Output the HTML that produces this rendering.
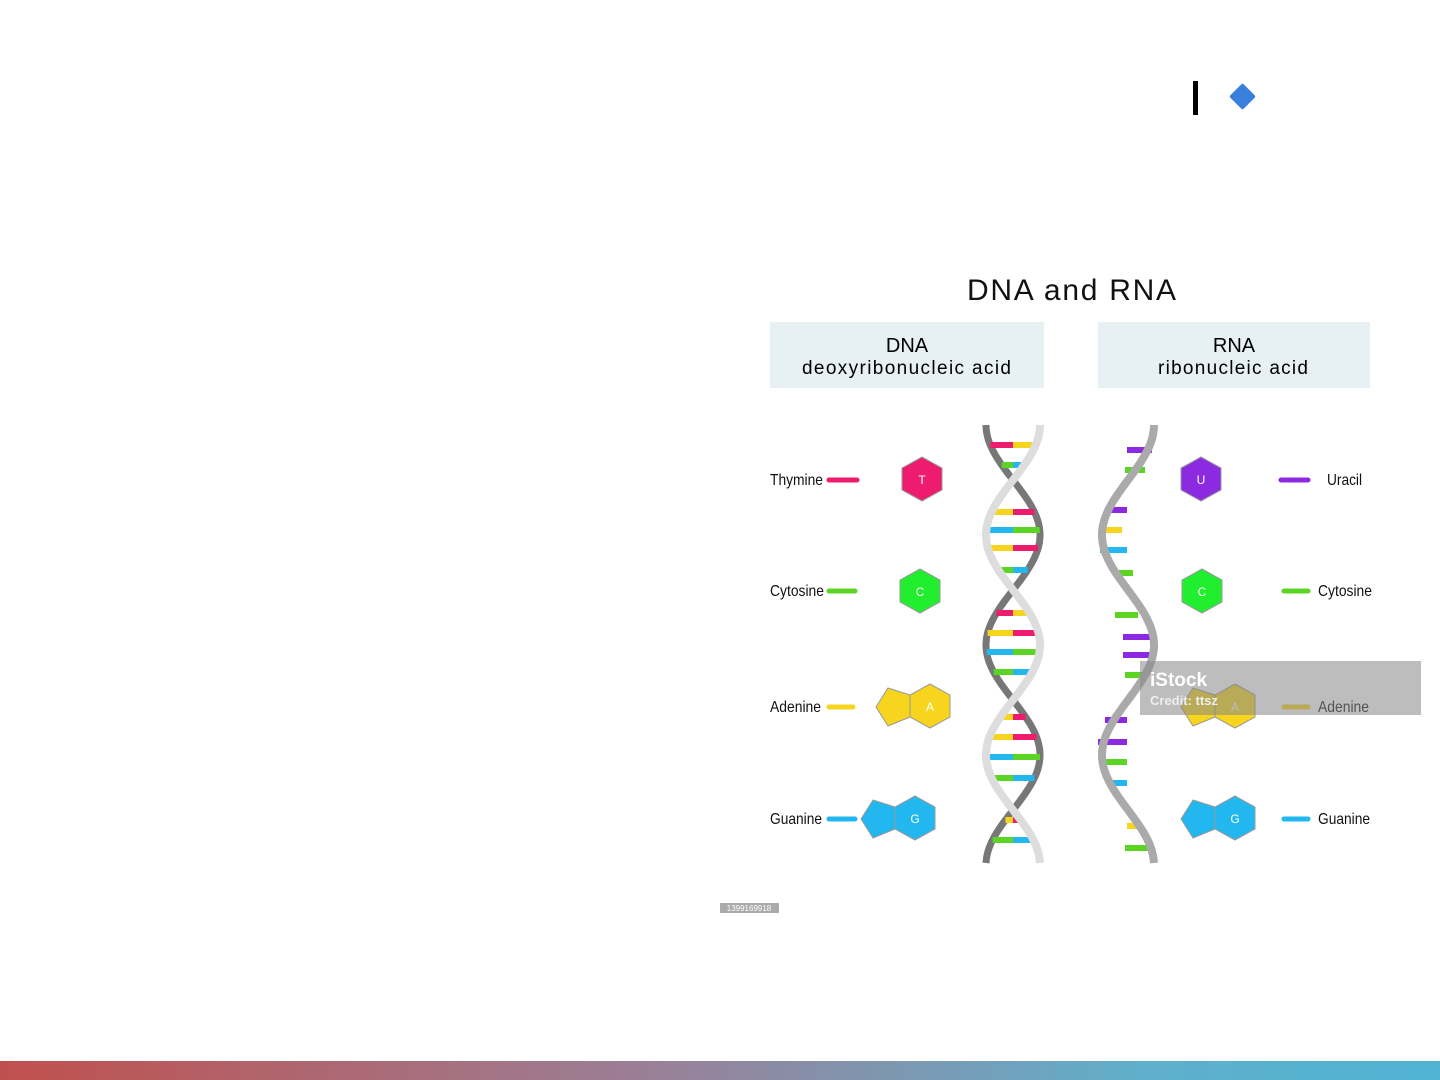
<!DOCTYPE html>
<html><head><meta charset="utf-8"><style>
body{margin:0;width:1440px;height:1080px;background:#fff;overflow:hidden;position:relative;font-family:"Liberation Sans",sans-serif}
.bar{position:absolute;left:0;top:1061px;width:1440px;height:19px;background:linear-gradient(90deg,#c0504d,#9a7f97 45%,#5fb0cc 80%,#4fb3d2)}
</style></head><body>
<svg width="1440" height="1080" style="position:absolute;left:0;top:0" font-family="Liberation Sans, sans-serif">
<rect x="1193" y="81" width="5" height="34" fill="#000"/>
<rect x="1233" y="87" width="19" height="19" fill="#3b7fdc" transform="rotate(45 1242.5 96.5)" rx="2"/>
<text x="967" y="300" font-size="30" fill="#111" textLength="209" lengthAdjust="spacing">DNA and RNA</text>
<rect x="770" y="322" width="274" height="66" fill="#e7f0f3"/>
<rect x="1098" y="322" width="272" height="66" fill="#e7f0f3"/>
<text x="907" y="352" font-size="20" text-anchor="middle">DNA</text>
<text x="802" y="374" font-size="19" textLength="209" lengthAdjust="spacing">deoxyribonucleic acid</text>
<text x="1234" y="352" font-size="20" text-anchor="middle">RNA</text>
<text x="1158" y="374" font-size="19" textLength="150" lengthAdjust="spacing">ribonucleic acid</text>
<g font-size="16" fill="#111" lengthAdjust="spacingAndGlyphs">
<text x="770" y="485" textLength="53" lengthAdjust="spacingAndGlyphs">Thymine</text>
<text x="770" y="596" textLength="54" lengthAdjust="spacingAndGlyphs">Cytosine</text>
<text x="770" y="712" textLength="51" lengthAdjust="spacingAndGlyphs">Adenine</text>
<text x="770" y="824" textLength="52" lengthAdjust="spacingAndGlyphs">Guanine</text>
<text x="1327" y="485" textLength="35" lengthAdjust="spacingAndGlyphs">Uracil</text>
<text x="1318" y="596" textLength="54" lengthAdjust="spacingAndGlyphs">Cytosine</text>
<text x="1318" y="712" textLength="51" lengthAdjust="spacingAndGlyphs">Adenine</text>
<text x="1318" y="824" textLength="52" lengthAdjust="spacingAndGlyphs">Guanine</text>
</g>
<g stroke-linecap="round" stroke-width="5">
<line x1="829" y1="480" x2="857" y2="480" stroke="#ee1c6e"/>
<line x1="829" y1="591" x2="855" y2="591" stroke="#5bd424"/>
<line x1="829" y1="707" x2="853" y2="707" stroke="#f7d51e"/>
<line x1="829" y1="819" x2="855" y2="819" stroke="#22b7ef"/>
<line x1="1281" y1="480" x2="1308" y2="480" stroke="#8b2ae0"/>
<line x1="1284" y1="591" x2="1308" y2="591" stroke="#5bd424"/>
<line x1="1284" y1="707" x2="1308" y2="707" stroke="#f7d51e"/>
<line x1="1284" y1="819" x2="1308" y2="819" stroke="#22b7ef"/>
</g>
<g stroke="#999" stroke-width="1">
<polygon points="922,457 942,468 942,490 922,501 902,490 902,468" fill="#ee1c6e"/>
<polygon points="920,569 940,580 940,602 920,613 900,602 900,580" fill="#22ee30"/>
<polygon points="1201,457 1221,468 1221,490 1201,501 1181,490 1181,468" fill="#8b2ae0"/>
<polygon points="1202,569 1222,580 1222,602 1202,613 1182,602 1182,580" fill="#22ee30"/>
<polygon points="930,684 950,695 950,717 930,728 910,717 910,695" fill="#f7d51e"/>
<polygon points="910,695 888,688 876,707 888,726 910,717" fill="#f7d51e"/>
<polygon points="1235,684 1255,695 1255,717 1235,728 1215,717 1215,695" fill="#f7d51e"/>
<polygon points="1215,695 1193,688 1181,707 1193,726 1215,717" fill="#f7d51e"/>
<polygon points="915,796 935,807 935,829 915,840 895,829 895,807" fill="#22b7ef"/>
<polygon points="895,807 873,800 861,819 873,838 895,829" fill="#22b7ef"/>
<polygon points="1235,796 1255,807 1255,829 1235,840 1215,829 1215,807" fill="#22b7ef"/>
<polygon points="1215,807 1193,800 1181,819 1193,838 1215,829" fill="#22b7ef"/>
</g>
<g fill="#fff" font-size="12" text-anchor="middle">
<text x="922" y="484">T</text><text x="920" y="596">C</text><text x="1201" y="484">U</text><text x="1202" y="596">C</text><text x="930" y="711">A</text><text x="1235" y="711">A</text><text x="915" y="823">G</text><text x="1235" y="823">G</text>
</g>
<g id="helix"></g>
<rect x="1140" y="661" width="281" height="54" fill="rgba(135,135,135,0.55)"/>
<text x="1150" y="686" font-size="19" font-weight="bold" fill="#fff">iStock</text>
<text x="1150" y="705" font-size="13" font-weight="bold" fill="#eee">Credit: ttsz</text>
<rect x="720" y="903" width="59" height="10" fill="#aaa"/>
<text x="749" y="911" font-size="8" fill="#fff" text-anchor="middle">1399169918</text>
</svg>
<div class="bar"></div>
<script>
const g=document.getElementById('helix');let s='';
const P=220;
function path(f){let d='';for(let y=425;y<=865;y+=3){d+=(y==425?'M':'L')+f(y).toFixed(1)+','+y+' ';}return d;}
const c=y=>Math.cos(2*Math.PI*(y-425)/P);
const C={T:'#ee1c6e',A:'#f7d51e',G:'#22b7ef',C:'#5bd424',U:'#8b2ae0'};
const db=[[445,'T','A'],[465,'C','G'],[512,'A','T'],[530,'G','C'],[548,'A','T'],[570,'C','G'],[613,'T','A'],[633,'A','T'],[652,'G','C'],[672,'C','G'],[717,'A','T'],[737,'A','T'],[757,'G','C'],[778,'C','G'],[820,'A','T'],[840,'C','G']];
s+='<path d="'+path(y=>1013-27*c(y))+'" fill="none" stroke="#777" stroke-width="7"/>';
db.forEach(([y,a,b])=>{const w=Math.abs(27*c(y));s+=`<rect x="${1013-w}" y="${y-3}" width="${w}" height="6" fill="${C[a]}"/><rect x="1013" y="${y-3}" width="${w}" height="6" fill="${C[b]}"/>`;});
s+='<path d="'+path(y=>1013+27*c(y))+'" fill="none" stroke="#ddd" stroke-width="8"/>';
const rb=[[450,1127,1152,'U'],[470,1125,1145,'C'],[510,1105,1127,'U'],[530,1100,1122,'A'],[550,1100,1127,'G'],[573,1113,1133,'C'],[615,1115,1138,'C'],[637,1123,1152,'U'],[655,1123,1153,'U'],[675,1125,1145,'C'],[720,1105,1127,'U'],[742,1098,1127,'U'],[762,1100,1127,'C'],[783,1110,1127,'G'],[826,1127,1140,'A'],[848,1125,1152,'C']];
rb.forEach(([y,a,b,k])=>{s+=`<rect x="${a}" y="${y-3}" width="${b-a}" height="6" fill="${C[k]}"/>`;});
s+='<path d="'+path(y=>1128+26*c(y))+'" fill="none" stroke="#aaa" stroke-width="8"/>';
g.innerHTML=s;
</script>
</body></html>
